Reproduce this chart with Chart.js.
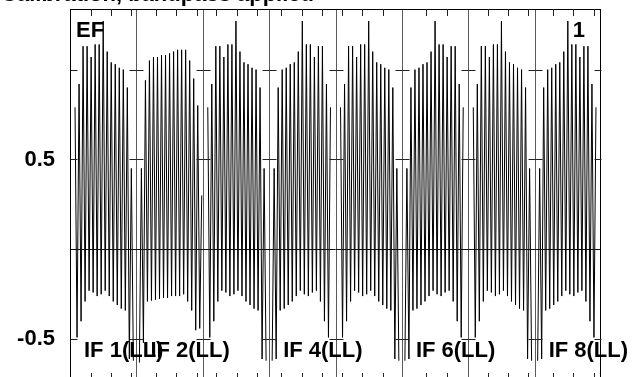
<!DOCTYPE html>
<html>
<head>
<meta charset="utf-8">
<script src="https://cdn.jsdelivr.net/npm/chart.js@4.4.1/dist/chart.umd.min.js"></script>
<style>
  html, body { margin: 0; padding: 0; background: #fff; overflow: hidden; }
  canvas { display: block; }
</style>
</head>
<body>
<canvas id="bpChart" width="639" height="386"></canvas>
<script>
// per channel peaks / troughs, channel order (IF 1 and 3-8 show the same shape)
// first channel of those IFs is flagged (null)
const peaksIF = [null, 0.79, 0.92, 1.13, 1.13, 1.07, 1.14, 1.14, 1.27, 1.10, 1.04, 1.03, 1.01, 1.00, 0.90, 0.45];
const troughsIF = [null, -0.49, -0.40, -0.29, -0.23, -0.24, -0.26, -0.25, -0.23, -0.26, -0.29, -0.31, -0.33, -0.34, -0.61, -0.62];
const peaksIF2 = [0.30, 0.80, 0.95, 1.05, 1.11, 1.11, 1.11, 1.10, 1.09, 1.08, 1.08, 1.07, 1.07, 1.05, 0.94, 0.45];
const troughsIF2 = [-0.44, -0.45, -0.34, -0.29, -0.25, -0.26, -0.26, -0.26, -0.27, -0.27, -0.275, -0.28, -0.285, -0.29, -0.52, -0.63];

const ifNames = ['IF 1(LL)', 'IF 2(LL)', 'IF 3(LL)', 'IF 4(LL)', 'IF 5(LL)', 'IF 6(LL)', 'IF 7(LL)', 'IF 8(LL)'];
const ifShown = [true, true, false, true, false, true, false, true];
const sideband = ['U', 'L', 'U', 'L', 'U', 'L', 'U', 'L'];
const ifPeaks = [peaksIF, peaksIF2, peaksIF, peaksIF, peaksIF, peaksIF, peaksIF, peaksIF];
const ifTroughs = [troughsIF, troughsIF2, troughsIF, troughsIF, troughsIF, troughsIF, troughsIF, troughsIF];

// frequency tick marks (in channel slots along the x axis)
const xTicks = [10.5, 20.5, 30.4, 42.6, 52.7, 62.9, 72.6, 82.8, 93.0, 105.1, 115.3, 125.3, 135.1, 145.3, 155.5,
                177.1, 187.3, 207.6, 217.8, 227.9, 240.1, 250.2, 260.4];
const yTicks = [1.0, 0.5, -0.5];
const yLabels = [0.5, -0.5];

const titleText = 'Calibration, bandpass applied';
const stationText = 'EF';
const plotNum = '1';

const SLOTS = 33; // slots per IF
let points = [];
for (let k = 0; k < 8; k++) {
    let pts = [];
    for (let j = 0; j < ifPeaks[k].length; j++) {
        if (ifPeaks[k][j] === null) continue;
        let sp = 0.5 + 2 * j, st = 1.5 + 2 * j;
        if (sideband[k] === 'L') { sp = SLOTS - sp; st = SLOTS - st; }
        pts.push({x: k * SLOTS + sp, y: ifPeaks[k][j]});
        pts.push({x: k * SLOTS + st, y: ifTroughs[k][j]});
    }
    pts.sort((a, b) => a.x - b.x);
    points = points.concat(pts);
    // break the line between IFs
    points.push({x: (k + 1) * SLOTS, y: null});
}

const overlay = {
    id: 'overlay',
    afterDatasetsDraw(chart) {
        const ctx = chart.ctx;
        const a = chart.chartArea;
        const x = chart.scales.x, y = chart.scales.y;
        const seg = (x1, y1, x2, y2) => { ctx.beginPath(); ctx.moveTo(x1, y1); ctx.lineTo(x2, y2); ctx.stroke(); };
        ctx.save();

        // IF separators
        ctx.strokeStyle = '#5a5a5a';
        ctx.lineWidth = 1;
        for (let k = 1; k < 8; k++) {
            let px = Math.round(x.getPixelForValue(k * SLOTS)) + 0.5;
            seg(px, a.top, px, a.bottom);
        }

        // zero line
        ctx.strokeStyle = '#111';
        let y0 = Math.round(y.getPixelForValue(0)) + 0.5;
        seg(a.left, y0, a.right, y0);

        // frame
        ctx.strokeStyle = '#000';
        ctx.strokeRect(a.left + 0.5, a.top + 0.5, a.right - a.left - 1, a.bottom - a.top - 1);

        // x ticks, top and bottom, pointing inward
        ctx.strokeStyle = '#222';
        xTicks.forEach(t => {
            let px = Math.round(x.getPixelForValue(t)) + 0.5;
            seg(px, a.top, px, a.top + 7);
            seg(px, a.bottom, px, a.bottom - 7);
        });

        // y ticks on each IF edge
        for (let k = 0; k <= 8; k++) {
            let px = Math.round(x.getPixelForValue(k * SLOTS)) + 0.5;
            yTicks.forEach(v => {
                let py = Math.round(y.getPixelForValue(v)) + 0.5;
                if (k > 0) seg(px - 7, py, px, py);
                if (k < 8) seg(px, py, px + 7, py);
            });
        }

        // texts
        ctx.fillStyle = '#000';
        ctx.font = 'bold 22px "Liberation Sans", Arial, sans-serif';
        ctx.textBaseline = 'alphabetic';
        ctx.textAlign = 'left';
        ifNames.forEach((name, k) => {
            if (!ifShown[k]) return;
            ctx.fillText(name, x.getPixelForValue(k * SLOTS) + 14, 357);
        });
        ctx.fillText(stationText, a.left + 6, 36.5);
        ctx.textAlign = 'right';
        ctx.fillText(plotNum, a.right - 16, 37);
        ctx.fillText(titleText, 314, 1);
        ctx.restore();
    }
};

const ctx = document.getElementById('bpChart');

new Chart(ctx, {
    type: 'line',
    data: {
        datasets: [{
            data: points,
            borderColor: '#000',
            borderWidth: 1,
            pointRadius: 0,
            tension: 0,
            spanGaps: false,
            fill: false
        }]
    },
    options: {
        responsive: false,
        animation: false,
        events: [],
        layout: { padding: { left: 0, right: 38, top: 9, bottom: 6 } },
        plugins: { legend: { display: false }, tooltip: { enabled: false } },
        scales: {
            x: { type: 'linear', min: 0, max: 8 * SLOTS, display: false },
            y: {
                min: -0.727,
                max: 1.337,
                grid: { display: false, drawTicks: false },
                border: { display: false },
                ticks: {
                    stepSize: 0.5,
                    padding: 15,
                    color: '#000',
                    font: { family: '"Liberation Sans", Arial, sans-serif', size: 22, weight: 'bold' },
                    callback: v => {
                        let hit = yLabels.find(l => Math.abs(l - v) < 1e-6);
                        return hit === undefined ? '' : String(hit);
                    }
                },
                afterFit: s => {
                    s.width = 70;
                    s.paddingTop = 0;
                    s.paddingBottom = 0;
                }
            }
        }
    },
    plugins: [overlay]
});
</script>
</body>
</html>
